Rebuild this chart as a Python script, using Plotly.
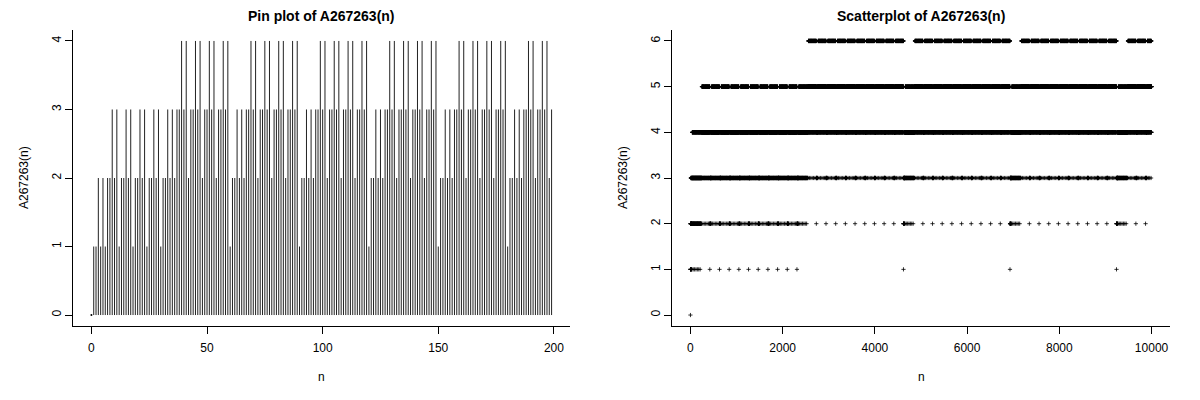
import plotly.graph_objects as go

# primorial base place values (bases 2,3,5,7,11,13,...)
PRIMES = [2, 3, 5, 7, 11, 13, 17]

PIN_N_MAX = 199
SCATTER_N_MAX = 10000

X_TICKS_LEFT = [0, 50, 100, 150, 200]
Y_TICKS_LEFT = [0, 1, 2, 3, 4]
X_TICKS_RIGHT = [0, 2000, 4000, 6000, 8000, 10000]
X_TICKTEXT_RIGHT = ["0", "2000", "4000", "6000", "8000", "10000"]
Y_TICKS_RIGHT = [0, 1, 2, 3, 4, 5, 6]


def a267263(n):
    """Number of nonzero digits in primorial base representation of n."""
    c = 0
    for p in PRIMES:
        if n == 0:
            break
        if n % p:
            c += 1
        n //= p
    return c


pin_n = list(range(0, PIN_N_MAX + 1))
pin_v = [a267263(k) for k in pin_n]
sc_n = list(range(0, SCATTER_N_MAX + 1))
sc_v = [a267263(k) for k in sc_n]

W, H = 1200, 400


def px_x(p):
    return p / W


def px_y(p):
    return 1 - p / H


# pin segments
seg_x, seg_y = [], []
for k, v in zip(pin_n, pin_v):
    seg_x += [k, k, None]
    seg_y += [0, v, None]

fig = go.Figure()
fig.add_trace(go.Scatter(x=seg_x, y=seg_y, mode="lines",
                         line=dict(color="#222222", width=1),
                         xaxis="x", yaxis="y", showlegend=False,
                         hoverinfo="skip"))
fig.add_trace(go.Scatter(x=[0], y=[0], mode="markers",
                         marker=dict(color="black", size=2),
                         xaxis="x", yaxis="y", showlegend=False))
fig.add_trace(go.Scatter(x=sc_n, y=sc_v, mode="markers",
                         marker=dict(symbol="cross-thin", size=3, color="black",
                                     line=dict(color="black", width=0.8)),
                         xaxis="x2", yaxis="y2", showlegend=False))

font = dict(family="Liberation Sans, Arial, sans-serif", size=12, color="black")
axis_common = dict(showgrid=False, zeroline=False, showline=True, linecolor="black",
                   linewidth=1, ticks="outside", ticklen=7, tickwidth=1,
                   tickcolor="black", mirror=False, tickfont=font)

y_dom = [px_y(326), px_y(30)]
fig.update_layout(
    width=W, height=H, margin=dict(l=0, r=0, t=0, b=0),
    paper_bgcolor="white", plot_bgcolor="white", font=font,
    xaxis=dict(domain=[px_x(73), px_x(570)], range=[-7.96, 206.96],
               tickvals=X_TICKS_LEFT, anchor="y", ticklabelstandoff=4,
               **axis_common),
    yaxis=dict(domain=y_dom, range=[-0.16, 4.16], tickvals=Y_TICKS_LEFT,
               tickangle=-90, anchor="x", ticklabelstandoff=-1, **axis_common),
    xaxis2=dict(domain=[px_x(672), px_x(1170)], range=[-400, 10400],
                tickvals=X_TICKS_RIGHT, ticktext=X_TICKTEXT_RIGHT,
                anchor="y2", ticklabelstandoff=4, **axis_common),
    yaxis2=dict(domain=y_dom, range=[-0.24, 6.24], tickvals=Y_TICKS_RIGHT,
                tickangle=-90, anchor="x2", ticklabelstandoff=-1, **axis_common),
)

bold = dict(family="Liberation Sans, Arial, sans-serif", size=14, color="black")
ann = [
    dict(text="<b>Pin plot of A267263(n)</b>", x=px_x(321), y=px_y(16)),
    dict(text="<b>Scatterplot of A267263(n)</b>", x=px_x(921), y=px_y(16)),
]
for a in ann:
    fig.add_annotation(xref="paper", yref="paper", showarrow=False,
                       xanchor="center", yanchor="middle", font=bold, **a)
for txt, x, y, ang in [("n", 321, 377, 0), ("n", 921, 377, 0),
                       ("A267263(n)", 24, 178, -90), ("A267263(n)", 623, 178, -90)]:
    fig.add_annotation(xref="paper", yref="paper", showarrow=False, text=txt,
                       x=px_x(x), y=px_y(y), xanchor="center", yanchor="middle",
                       textangle=ang, font=font)

fig.write_html("out.html", config={"displayModeBar": False},
               post_script="document.body.style.margin='0';")
